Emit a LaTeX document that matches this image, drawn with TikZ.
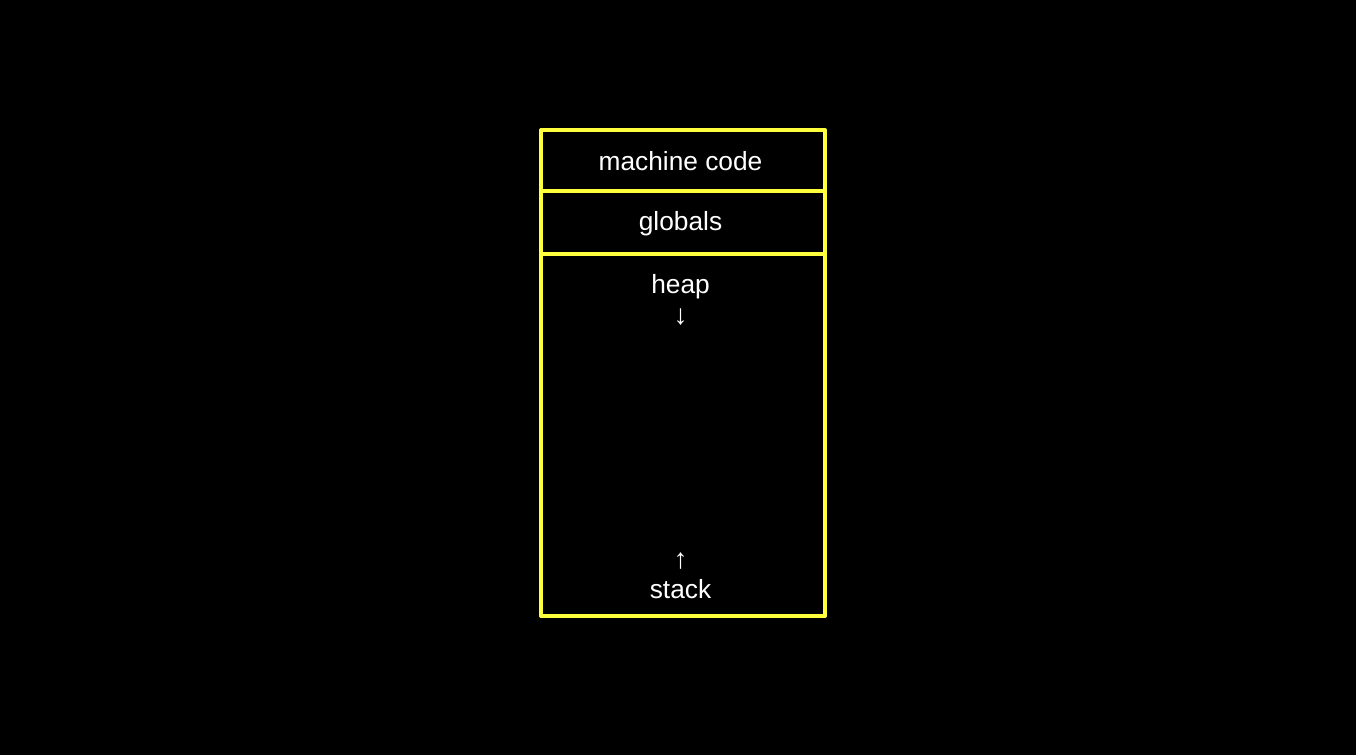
\documentclass[tikz,border=0pt]{standalone}
\usepackage{fontspec}
\setmainfont{Liberation Sans}
\definecolor{memyellow}{RGB}{255,255,60}
\begin{document}
\begin{tikzpicture}[x=1pt,y=-1pt,
  seg/.style={draw=memyellow,line width=4pt,line cap=round,line join=round,inner sep=0pt,outer sep=0pt,minimum width=284pt},
  lbl/.style={text=white,font=\fontsize{26.3}{30}\selectfont,inner sep=0pt,anchor=base},
  arr/.style={text=white,font=\fontsize{28}{30}\selectfont,inner sep=0pt}]
\fill[black] (0,0) rectangle (1356,755);
\useasboundingbox (0,0) rectangle (1356,755);
\node[seg,minimum height=61pt,anchor=north west] (code) at (541,130) {};
\node[seg,minimum height=63pt,anchor=north west] (glob) at (541,191) {};
\node[seg,minimum height=362pt,anchor=north west] (mem) at (541,254) {};
\node[lbl] (codet) at (680.5,170) {machine code};
\node[lbl] (globt) at (680.5,230) {globals};
\node[lbl] (heapt) at (680.5,293) {heap};
\node[arr] (heapa) at (680.5,317.5) {↓};
\node[arr] (stacka) at (680.5,561) {↑};
\node[lbl] (stackt) at (680.5,598) {stack};
\end{tikzpicture}
\end{document}
